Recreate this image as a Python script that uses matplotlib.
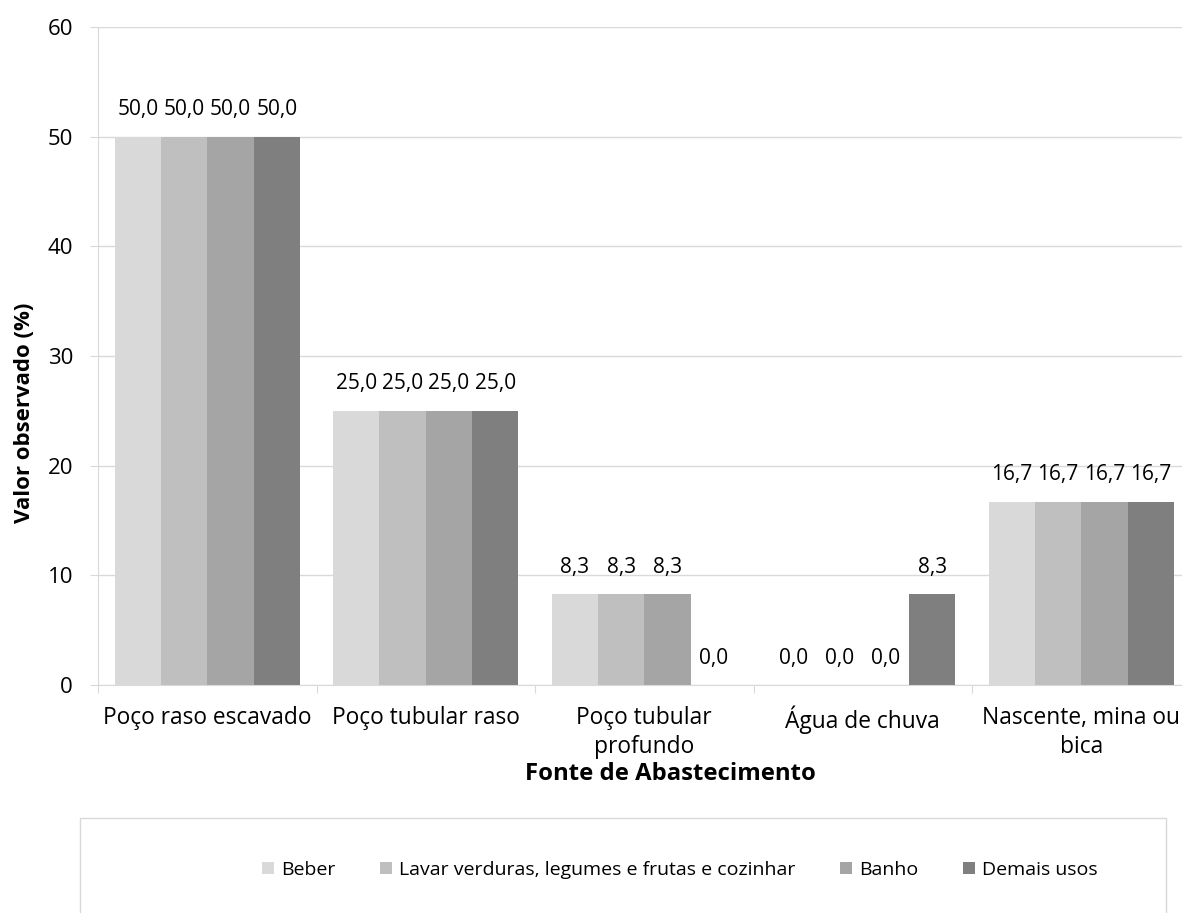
import matplotlib
matplotlib.use("Agg")
import matplotlib.pyplot as plt
import numpy as np
from matplotlib.patches import Rectangle

categories = ["Poço raso escavado", "Poço tubular raso", "Poço tubular\nprofundo",
              "Água de chuva", "Nascente, mina ou\nbica"]
series_names = ["Beber", "Lavar verduras, legumes e frutas e cozinhar", "Banho", "Demais usos"]
beber = [50.0, 25.0, 8.3, 0.0, 16.7]
lavar = [50.0, 25.0, 8.3, 0.0, 16.7]
banho = [50.0, 25.0, 8.3, 0.0, 16.7]
demais = [50.0, 25.0, 0.0, 8.3, 16.7]
colors = ["#d9d9d9", "#bfbfbf", "#a5a5a5", "#7f7f7f"]

plt.rcParams['font.family'] = ['Open Sans', 'DejaVu Sans']
FS_XTICK = 16.4
FS_YTICK = 16
FS_DATA = 15
FS_LEG = 14
FS_YLAB = 16
FS_XLAB = 17.2

W, H = 1182, 913
fig = plt.figure(figsize=(W/100, H/100), dpi=100)
left, right, bottom, top = 98, 1190.5, 685, 27
ax = fig.add_axes([left/W, 1-bottom/H, (right-left)/W, (bottom-top)/H])

x = np.arange(len(categories))
bw = 0.212
handles = []
for i, (vals, name, c) in enumerate(zip([beber, lavar, banho, demais], series_names, colors)):
    pos = x + (i - 1.5) * bw
    b = ax.bar(pos, vals, bw, color=c, label=name, zorder=3)
    handles.append(b)
    for p, v in zip(pos, vals):
        ax.annotate(f"{v:.1f}".replace(".", ","), (p, v), xytext=(0, 19.4),
                    textcoords="offset points", ha="center", va="center",
                    fontsize=FS_DATA, color="#000000")

ax.set_xlim(-0.5, len(categories) - 0.5)
ax.set_ylim(0, 60)
ax.set_yticks(range(0, 61, 10))
ax.tick_params(axis='y', length=6, color="#d9d9d9", labelsize=FS_YTICK, pad=12)
ax.set_xticks(np.arange(-0.5, len(categories), 1.0), minor=False)
ax.set_xticklabels([])
ax.tick_params(axis='x', which='major', length=6, color="#d9d9d9")
ax.set_xticks(x, minor=True)
ax.set_xticklabels(categories, minor=True, fontsize=FS_XTICK)
ax.tick_params(axis='x', which='minor', length=0, pad=15)
for t in ax.get_xticklabels(minor=True):
    t.set_linespacing(1.3)
ax.grid(axis='y', color="#d9d9d9", linewidth=1, zorder=0)
for s in ["top", "right"]:
    ax.spines[s].set_visible(False)
ax.spines["left"].set_color("#d9d9d9")
ax.spines["bottom"].set_color("#d9d9d9")
ax.spines["left"].set_zorder(4)
ax.spines["bottom"].set_zorder(4)

fig.text(25/W, 1-413/H, "Valor observado (%)", ha="center", va="center", rotation=90,
         fontsize=FS_YLAB, fontweight="bold")
fig.text(670/W, 1-774/H, "Fonte de Abastecimento", ha="center", va="center",
         fontsize=FS_XLAB, fontweight="bold")

box = Rectangle((80/W, -0.05), (1166-80)/W, 1-818/H+0.05, transform=fig.transFigure,
                facecolor="none", edgecolor="#d9d9d9", linewidth=1)
fig.patches.append(box)

fig.legend(handles=handles, labels=series_names, loc="center",
           bbox_to_anchor=(680/W, 1-870/H), ncol=4, frameon=False, fontsize=FS_LEG,
           handlelength=0.62, handleheight=0.62, handletextpad=0.36,
           columnspacing=2.3)

fig.savefig("out.png", dpi=100)
